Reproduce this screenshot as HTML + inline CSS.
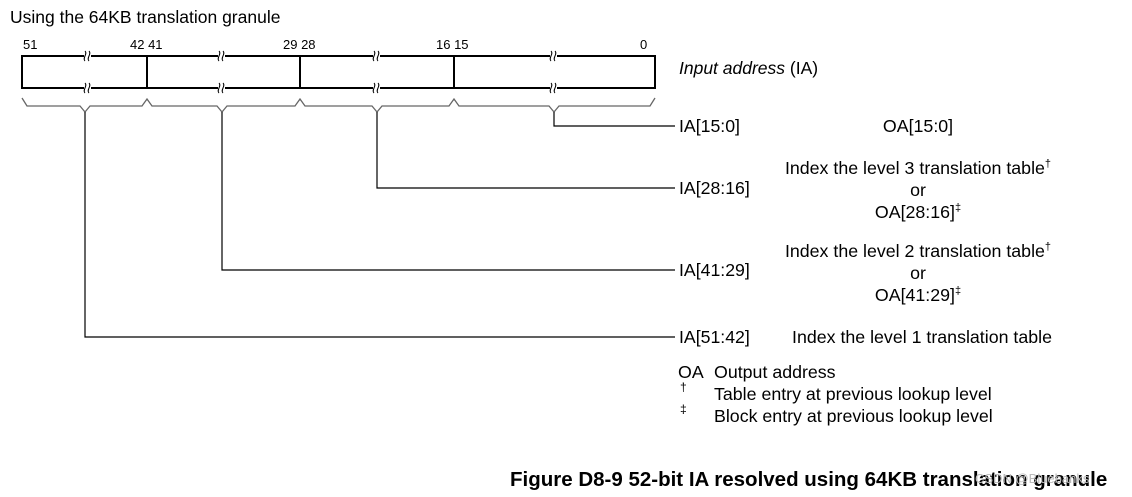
<!DOCTYPE html>
<html><head><meta charset="utf-8"><style>
html,body{margin:0;padding:0;background:#fff;}
svg{display:block;font-family:"Liberation Sans",Arial,sans-serif;}
</style></head><body>
<svg width="1132" height="497" viewBox="0 0 1132 497" xmlns="http://www.w3.org/2000/svg">
<text x="10" y="23" font-size="17.5">Using the 64KB translation granule</text>
<g font-size="13">
<text x="23" y="49">51</text>
<text x="130" y="49">42 41</text>
<text x="283" y="49">29 28</text>
<text x="436" y="49">16 15</text>
<text x="640" y="49">0</text>
</g>
<g stroke="#000" stroke-width="2" fill="none">
<rect x="22" y="56" width="633" height="32"/>
<line x1="147" y1="56" x2="147" y2="88"/>
<line x1="300" y1="56" x2="300" y2="88"/>
<line x1="454" y1="56" x2="454" y2="88"/>
</g>
<g fill="#fff">
<rect x="84" y="52" width="7" height="8"/>
<rect x="84" y="84" width="7" height="8"/>
<rect x="218" y="52" width="7" height="8"/>
<rect x="218" y="84" width="7" height="8"/>
<rect x="373" y="52" width="7" height="8"/>
<rect x="373" y="84" width="7" height="8"/>
<rect x="550" y="52" width="7" height="8"/>
<rect x="550" y="84" width="7" height="8"/>
</g>
<g stroke="#000" stroke-width="1" fill="none">
<path d="M85,51 c3,3 -3,7 0,10 M89,51 c3,3 -3,7 0,10 M85,83 c3,3 -3,7 0,10 M89,83 c3,3 -3,7 0,10"/>
<path d="M219,51 c3,3 -3,7 0,10 M223,51 c3,3 -3,7 0,10 M219,83 c3,3 -3,7 0,10 M223,83 c3,3 -3,7 0,10"/>
<path d="M374,51 c3,3 -3,7 0,10 M378,51 c3,3 -3,7 0,10 M374,83 c3,3 -3,7 0,10 M378,83 c3,3 -3,7 0,10"/>
<path d="M551,51 c3,3 -3,7 0,10 M555,51 c3,3 -3,7 0,10 M551,83 c3,3 -3,7 0,10 M555,83 c3,3 -3,7 0,10"/>
</g>
<g stroke="#666" stroke-width="1.3" fill="none">
<path d="M22,98 L27,106 L80,106 L85,112 L90,106 L142,106 L147,99 L152,106 L217,106 L222,112 L227,106 L295,106 L300,99 L305,106 L372,106 L377,112 L382,106 L449,106 L454,99 L459,106 L549,106 L554,112 L559,106 L650,106 L655,98"/>
</g>
<g stroke="#000" stroke-width="1.2" fill="none">
<path d="M85,112 V337 H675"/>
<path d="M222,112 V270 H675"/>
<path d="M377,112 V188 H675"/>
<path d="M554,112 V126 H675"/>
</g>
<text x="679" y="74" font-size="17.5"><tspan font-style="italic">Input address</tspan> (IA)</text>
<g font-size="17.7">
<text x="679" y="132">IA[15:0]</text>
<text x="679" y="194">IA[28:16]</text>
<text x="679" y="276">IA[41:29]</text>
<text x="679" y="343">IA[51:42]</text>
</g>
<g font-size="17.8" text-anchor="middle">
<text x="918" y="132">OA[15:0]</text>
<text x="918" y="174">Index the level 3 translation table<tspan font-size="11" dy="-7">†</tspan></text>
<text x="918" y="196">or</text>
<text x="918" y="218">OA[28:16]<tspan font-size="11" dy="-7">‡</tspan></text>
<text x="918" y="257">Index the level 2 translation table<tspan font-size="11" dy="-7">†</tspan></text>
<text x="918" y="279">or</text>
<text x="918" y="301">OA[41:29]<tspan font-size="11" dy="-7">‡</tspan></text>
<text x="922" y="343">Index the level 1 translation table</text>
</g>
<g font-size="17.8">
<text x="678" y="378">OA</text>
<text x="714" y="378">Output address</text>
<text x="680" y="391" font-size="12">†</text>
<text x="714" y="400">Table entry at previous lookup level</text>
<text x="680" y="413" font-size="12">‡</text>
<text x="714" y="422">Block entry at previous lookup level</text>
</g>
<text x="510" y="486" font-size="20.5" font-weight="bold">Figure D8-9 52-bit IA resolved using 64KB translation granule</text>
<text x="975" y="483" font-size="13" fill="#bbb">CSDN @Bluebanks</text>
</svg>
</body></html>
